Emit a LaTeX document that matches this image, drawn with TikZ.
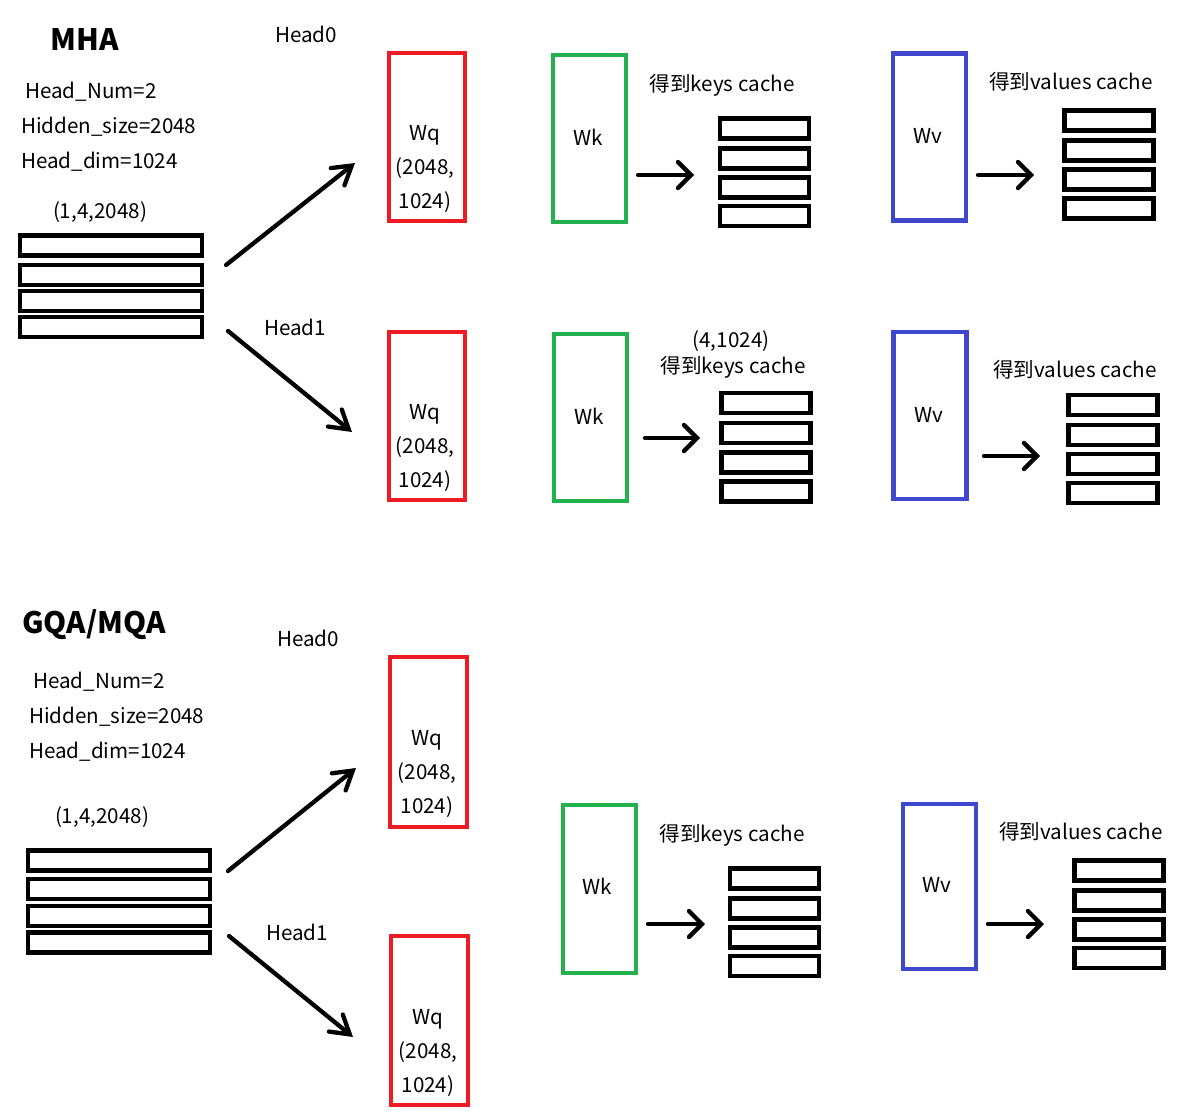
\documentclass[tikz,border=0pt]{standalone}
\usepackage{fontspec}
\setmainfont{Noto Sans CJK SC}
\usetikzlibrary{arrows.meta}
\definecolor{qred}{RGB}{237,28,36}
\definecolor{kgreen}{RGB}{34,177,76}
\definecolor{vblue}{RGB}{63,72,204}
\tikzset{
  cell/.style={draw=black, line width=4.6pt, inner sep=0pt, minimum height=20pt},
  incell/.style={cell, minimum width=182pt},
  kvcell/.style={cell, minimum width=89pt},
  wbox/.style={line width=4.3pt, inner sep=0pt, minimum width=73pt, minimum height=167pt},
  qbox/.style={wbox, draw=qred, minimum width=76pt, minimum height=168pt},
  kbox/.style={wbox, draw=kgreen},
  vbox/.style={wbox, draw=vblue},
  lbl/.style={inner sep=0pt, font=\fontsize{20.6}{24}\selectfont},
  wlbl/.style={inner sep=0pt, align=center, font=\fontsize{20.6}{34}\selectfont},
  ttl/.style={inner sep=0pt, font=\fontsize{29.5}{34}\selectfont\bfseries},
  cachearr/.style={line width=4.3pt, line cap=round, -{Straight Barb[length=13pt,width=26pt,line cap=round]}},
  headarr/.style={line width=4.3pt, line cap=round, -{Straight Barb[length=18pt,width=22pt,line cap=round]}}
}
\begin{document}
\begin{tikzpicture}[x=1pt,y=-1pt]
\useasboundingbox (0,0) rectangle (1186,1117);
\fill[white] (0,0) rectangle (1186,1117);

% ================= MHA =================
\node[ttl] (mhatitle) at (85,40) {MHA};
\node[lbl] (mh0) at (306,34) {Head0};
\node[lbl] (mh1) at (295,327) {Head1};
\node[lbl, anchor=west] (mp1) at (25,92) {Head\_Num=2};
\node[lbl, anchor=west] (mp2) at (21,127) {Hidden\_size=2048};
\node[lbl, anchor=west] (mp3) at (21,162) {Head\_dim=1024};
\node[lbl] (mshape) at (100,212) {(1,4,2048)};

\node[incell] (mia) at (111,245.5) {};
\node[incell] (mib) at (111,275) {};
\node[incell] (mic) at (111,301) {};
\node[incell] (mid) at (111,327) {};

\coordinate (ma0s) at (226,265);
\coordinate (ma0e) at (355,163);
\coordinate (ma1s) at (228,331);
\coordinate (ma1e) at (352,432);
\draw[headarr] (ma0s) -- (ma0e);
\draw[headarr] (ma1s) -- (ma1e);

% head 0
\node[qbox] (mq0) at (427,137) {};
\node[wlbl] (mq0t) at (425,169) {Wq\\(2048,\\1024)};
\node[kbox] (mk0) at (589.5,138.5) {};
\node[lbl] (mk0t) at (588,137) {Wk};
\node[lbl] (mk0c) at (722,85) {得到keys cache};
\coordinate (mk0s) at (638,175);
\coordinate (mk0e) at (694,175);
\draw[cachearr] (mk0s) -- (mk0e);
\node[kvcell] (mka) at (764.5,128.5) {};
\node[kvcell] (mkb) at (764.5,158.5) {};
\node[kvcell] (mkc) at (764.5,187.5) {};
\node[kvcell] (mkd) at (764.5,216) {};
\node[vbox] (mv0) at (929.5,137) {};
\node[lbl] (mv0t) at (928,136) {Wv};
\node[lbl] (mv0c) at (1071,82) {得到values cache};
\coordinate (mv0s) at (978,175);
\coordinate (mv0e) at (1034,175);
\draw[cachearr] (mv0s) -- (mv0e);
\node[kvcell] (mva) at (1109,120.5) {};
\node[kvcell] (mvb) at (1109,150.5) {};
\node[kvcell] (mvc) at (1109,179.5) {};
\node[kvcell] (mvd) at (1109,208.5) {};

% head 1
\node[qbox] (mq1) at (427,416) {};
\node[wlbl] (mq1t) at (425,448) {Wq\\(2048,\\1024)};
\node[kbox] (mk1) at (590.5,417.5) {};
\node[lbl] (mk1t) at (589,416) {Wk};
\node[lbl] (mk1s) at (731,341) {(4,1024)};
\node[lbl] (mk1c) at (733,367) {得到keys cache};
\coordinate (mk1as) at (645,438);
\coordinate (mk1ae) at (700,438);
\draw[cachearr] (mk1as) -- (mk1ae);
\node[kvcell] (mk1a) at (766,403) {};
\node[kvcell] (mk1b) at (766,433) {};
\node[kvcell] (mk1c2) at (766,462.5) {};
\node[kvcell] (mk1d) at (766,491.5) {};
\node[vbox] (mv1) at (930,415.5) {};
\node[lbl] (mv1t) at (929,415) {Wv};
\node[lbl] (mv1c) at (1075,370) {得到values cache};
\coordinate (mv1as) at (984,456);
\coordinate (mv1ae) at (1040,456);
\draw[cachearr] (mv1as) -- (mv1ae);
\node[kvcell] (mv1a) at (1113,405) {};
\node[kvcell] (mv1b) at (1113,435) {};
\node[kvcell] (mv1c2) at (1113,464) {};
\node[kvcell] (mv1d) at (1113,493) {};

% ================= GQA/MQA =================
\node[ttl, anchor=west] (gtitle) at (22,625) {GQA/MQA};
\node[lbl] (gh0) at (308,638) {Head0};
\node[lbl] (gh1) at (297,932) {Head1};
\node[lbl, anchor=west] (gp1) at (33,682) {Head\_Num=2};
\node[lbl, anchor=west] (gp2) at (29,717) {Hidden\_size=2048};
\node[lbl, anchor=west] (gp3) at (29,752) {Head\_dim=1024};
\node[lbl] (gshape) at (102,817) {(1,4,2048)};

\node[incell] (gia) at (119,860.5) {};
\node[incell] (gib) at (119,889) {};
\node[incell] (gic) at (119,916) {};
\node[incell] (gid) at (119,942.5) {};

\coordinate (ga0s) at (228,871);
\coordinate (ga0e) at (356,768);
\coordinate (ga1s) at (229,936);
\coordinate (ga1e) at (353,1037);
\draw[headarr] (ga0s) -- (ga0e);
\draw[headarr] (ga1s) -- (ga1e);

\node[qbox, minimum width=77pt, minimum height=170pt] (gq0) at (428.5,742) {};
\node[wlbl] (gq0t) at (427,774) {Wq\\(2048,\\1024)};
\node[qbox, minimum width=77pt, minimum height=169pt] (gq1) at (429.5,1020.5) {};
\node[wlbl] (gq1t) at (428,1053) {Wq\\(2048,\\1024)};

\node[kbox, minimum height=168pt] (gk) at (599.5,889) {};
\node[lbl] (gkt) at (597,886) {Wk};
\node[lbl] (gkc) at (732,835) {得到keys cache};
\coordinate (gkas) at (648,924);
\coordinate (gkae) at (705,924);
\draw[cachearr] (gkas) -- (gkae);
\node[kvcell] (gka) at (774.5,878.5) {};
\node[kvcell] (gkb) at (774.5,908.5) {};
\node[kvcell] (gkc2) at (774.5,937.5) {};
\node[kvcell] (gkd) at (774.5,966) {};

\node[vbox, minimum height=165pt] (gv) at (939.5,886.5) {};
\node[lbl] (gvt) at (937,885) {Wv};
\node[lbl] (gvc) at (1081,832) {得到values cache};
\coordinate (gvas) at (988,924);
\coordinate (gvae) at (1044,924);
\draw[cachearr] (gvas) -- (gvae);
\node[kvcell] (gva) at (1119,870.5) {};
\node[kvcell] (gvb) at (1119,900.5) {};
\node[kvcell] (gvc2) at (1119,929.5) {};
\node[kvcell] (gvd) at (1119,958) {};
\end{tikzpicture}
\end{document}
